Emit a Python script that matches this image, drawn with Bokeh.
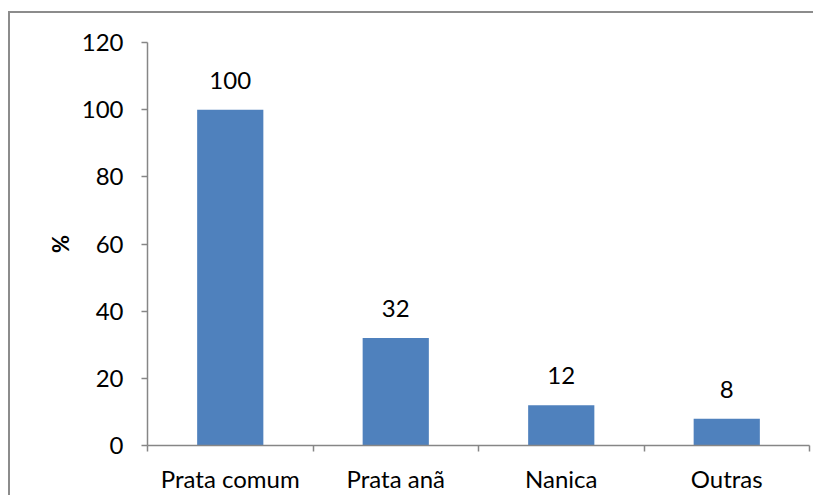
from bokeh.plotting import figure
from bokeh.models import ColumnDataSource, LabelSet, FixedTicker, Range1d
from bokeh.core.properties import value
from bokeh.embed import file_html
from bokeh.resources import INLINE
import numpy as np

categories = ["Prata comum", "Prata anã", "Nanica", "Outras"]
values = [100, 32, 12, 8]
y_ticks = [0, 20, 40, 60, 80, 100, 120]

pos = np.arange(len(categories)) + 0.5
src = ColumnDataSource(dict(x=pos, top=values, lab=[str(v) for v in values]))

FONT = "Lato"
FS = "24px"
AX = "#868686"

p = figure(frame_width=662, frame_height=403, output_backend="svg", toolbar_location=None,
           x_range=Range1d(0, len(categories)), y_range=Range1d(0, 120),
           min_border_left=137, min_border_right=4, min_border_top=29, min_border_bottom=45)
p.styles = {"border-top": "2px solid #8c8c8c", "border-left": "2px solid #8c8c8c",
            "margin-top": "11px", "margin-left": "8px"}
p.outline_line_color = None
p.xgrid.visible = False
p.ygrid.visible = False

p.vbar(x="x", top="top", width=0.4, bottom=0, source=src, fill_color="#4F81BD", line_color=None)

labels = LabelSet(x="x", y="top", text="lab", source=src, text_align="center", text_baseline="bottom",
                  y_offset=21, text_font=value(FONT), text_font_size=value(FS), text_color="black")
p.add_layout(labels)

xa = p.xaxis[0]
xa.ticker = FixedTicker(ticks=list(pos), minor_ticks=list(range(len(categories) + 1)))
xa.major_label_overrides = {float(x): c for x, c in zip(pos, categories)}
xa.major_tick_out = 0
xa.major_tick_in = 0
xa.minor_tick_out = 6
xa.minor_tick_in = 0
xa.minor_tick_line_color = AX
xa.axis_line_color = AX
xa.axis_line_width = 1.5
xa.minor_tick_line_width = 1.5
xa.major_label_standoff = 12
xa.major_label_text_font = FONT
xa.major_label_text_font_size = FS
xa.major_label_text_color = "black"

ya = p.yaxis[0]
ya.ticker = FixedTicker(ticks=y_ticks, minor_ticks=[])
ya.major_tick_out = 6
ya.major_tick_in = 0
ya.major_tick_line_color = AX
ya.major_tick_line_width = 1.5
ya.axis_line_color = AX
ya.axis_line_width = 1.5
ya.major_label_standoff = 18
ya.major_label_text_font = FONT
ya.major_label_text_font_size = FS
ya.major_label_text_color = "black"
ya.axis_label = "%"
ya.axis_label_text_font = FONT
ya.axis_label_text_font_size = "22px"
ya.axis_label_text_font_style = "bold"
ya.axis_label_text_color = "black"
ya.axis_label_standoff = 5

open("out.html", "w").write(file_html(p, INLINE))
